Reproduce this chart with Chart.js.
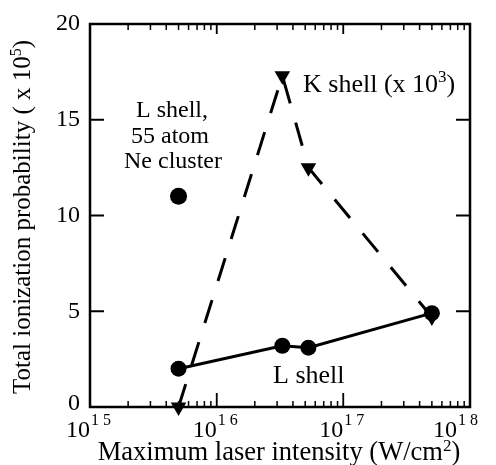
<!DOCTYPE html>
<html>
<head>
<meta charset="utf-8">
<script src="https://cdn.jsdelivr.net/npm/chart.js@4"></script>
<style>
html,body{margin:0;padding:0;background:#fff;}
#wrap{width:496px;height:465px;position:relative;}
</style>
</head>
<body>
<div id="wrap"><canvas id="c" width="496" height="465"></canvas></div>
<script>
// Data
const lShellX = [5e15, 3.3e16, 5.3e16, 5e17];
const lShellY = [2.0, 3.2, 3.1, 4.9];
const kShellX = [5e15, 3.3e16, 5.3e16, 5e17];
const kShellY = [0.0, 17.3, 12.5, 4.7];
const clusterX = [5e15];
const clusterY = [11.0];
const yTicks = [0, 5, 10, 15, 20];
const xDecades = [15, 16, 17, 18];

const SERIF = '"Liberation Serif", "Times New Roman", serif';

function pts(xs, ys) { return xs.map((x, i) => ({ x: x, y: ys[i] })); }

function drawSupText(ctx, parts, x, y, baseSize, supSize, supRaise, align) {
  let total = 0;
  parts.forEach(p => {
    ctx.font = (p.sup ? supSize : baseSize) + 'px ' + SERIF;
    p.w = ctx.measureText(p.t).width;
    total += p.w;
  });
  let cx = x;
  if (align === 'center') cx = x - total / 2;
  else if (align === 'right') cx = x - total;
  ctx.textAlign = 'left';
  ctx.textBaseline = 'alphabetic';
  parts.forEach(p => {
    ctx.font = (p.sup ? supSize : baseSize) + 'px ' + SERIF;
    ctx.fillText(p.t, cx, p.sup ? y - supRaise : y);
    cx += p.w;
  });
}

const decor = {
  id: 'decor',
  afterDraw(chart) {
    const ctx = chart.ctx;
    const a = chart.chartArea;
    const xs = chart.scales.x, ys = chart.scales.y;
    ctx.save();
    ctx.strokeStyle = '#000';
    ctx.fillStyle = '#000';
    // frame
    ctx.lineWidth = 2.5;
    ctx.strokeRect(a.left, a.top, a.right - a.left, a.bottom - a.top);
    // y ticks (inward, both sides)
    ctx.lineWidth = 2;
    yTicks.forEach(v => {
      if (v === 0 || v === 20) return;
      const py = ys.getPixelForValue(v);
      ctx.beginPath();
      ctx.moveTo(a.left, py); ctx.lineTo(a.left + 14, py);
      ctx.moveTo(a.right, py); ctx.lineTo(a.right - 14, py);
      ctx.stroke();
    });
    // x ticks (inward, top and bottom)
    ctx.lineWidth = 1.5;
    for (let d = 15; d < 18; d++) {
      for (let k = 1; k <= 10; k++) {
        const v = k * Math.pow(10, d);
        const px = xs.getPixelForValue(v);
        const major = (k === 1 || k === 10);
        const lenB = major ? 14 : 6;
        const lenT = major ? 10 : 6;
        ctx.beginPath();
        ctx.moveTo(px, a.bottom); ctx.lineTo(px, a.bottom - lenB);
        ctx.moveTo(px, a.top); ctx.lineTo(px, a.top + lenT);
        ctx.stroke();
      }
    }
    // y tick labels
    ctx.font = '24px ' + SERIF;
    ctx.textAlign = 'right';
    ctx.textBaseline = 'middle';
    yTicks.forEach(v => {
      let py = ys.getPixelForValue(v);
      if (v === 0) py -= 3;
      ctx.fillText(String(v), 80, py);
    });
    // x tick labels 10^n
    xDecades.forEach(n => {
      const px = xs.getPixelForValue(Math.pow(10, n));
      let off = (n === 18) ? -13 : 0;
      ctx.font = '24px ' + SERIF;
      ctx.textAlign = 'right';
      ctx.textBaseline = 'alphabetic';
      ctx.fillText('10', px + off, 437);
      ctx.font = '16px ' + SERIF;
      ctx.textAlign = 'left';
      const s = String(n);
      ctx.fillText(s[0] + ' ' + s[1], px + off + 1, 425);
    });
    // x axis title
    drawSupText(ctx, [{t:'Maximum laser intensity (W/cm'},{t:'2',sup:true},{t:')'}],
      279, 460, 26.5, 17, 9, 'center');
    // y axis title
    ctx.save();
    ctx.translate(30, 217);
    ctx.rotate(-Math.PI / 2);
    drawSupText(ctx, [{t:'Total ionization probability ( x 10'},{t:'5',sup:true},{t:')'}],
      0, 0, 25, 16, 9, 'center');
    ctx.restore();
    // annotations
    drawSupText(ctx, [{t:'K shell (x 10'},{t:'3',sup:true},{t:')'}], 303, 92, 26, 17, 10, 'left');
    drawSupText(ctx, [{t:'L shell'}], 273, 383, 26, 17, 9, 'left');
    drawSupText(ctx, [{t:'L shell,'}], 172, 117, 24, 15, 9, 'center');
    drawSupText(ctx, [{t:'55 atom'}], 170, 143, 24, 15, 9, 'center');
    drawSupText(ctx, [{t:'Ne cluster'}], 173, 168, 24, 15, 9, 'center');
    ctx.restore();
  }
};

new Chart(document.getElementById('c'), {
  type: 'scatter',
  data: {
    datasets: [
      {
        label: 'L shell',
        data: pts(lShellX, lShellY),
        showLine: true,
        borderColor: '#000',
        backgroundColor: '#000',
        borderWidth: 3,
        pointStyle: 'circle',
        pointRadius: 8,
        pointBorderWidth: 0,
        pointBackgroundColor: '#000'
      },
      {
        label: 'K shell (x 10^3)',
        data: pts(kShellX, kShellY),
        showLine: true,
        borderColor: '#000',
        backgroundColor: '#000',
        borderWidth: 3,
        borderDash: [24, 20],
        pointStyle: 'triangle',
        pointRotation: 180,
        pointRadius: 9,
        pointBorderWidth: 0,
        pointBackgroundColor: '#000'
      },
      {
        label: 'L shell, 55 atom Ne cluster',
        data: pts(clusterX, clusterY),
        showLine: false,
        pointStyle: 'circle',
        pointRadius: 8.5,
        pointBorderWidth: 0,
        pointBackgroundColor: '#000'
      }
    ]
  },
  options: {
    responsive: false,
    animation: false,
    clip: false,
    layout: { padding: { left: 90, top: 24, right: 26, bottom: 58 } },
    plugins: { legend: { display: false }, tooltip: { enabled: false } },
    scales: {
      x: { type: 'logarithmic', min: 1e15, max: 1e18, display: false },
      y: { type: 'linear', min: 0, max: 20, display: false }
    }
  },
  plugins: [decor]
});
</script>
</body>
</html>
